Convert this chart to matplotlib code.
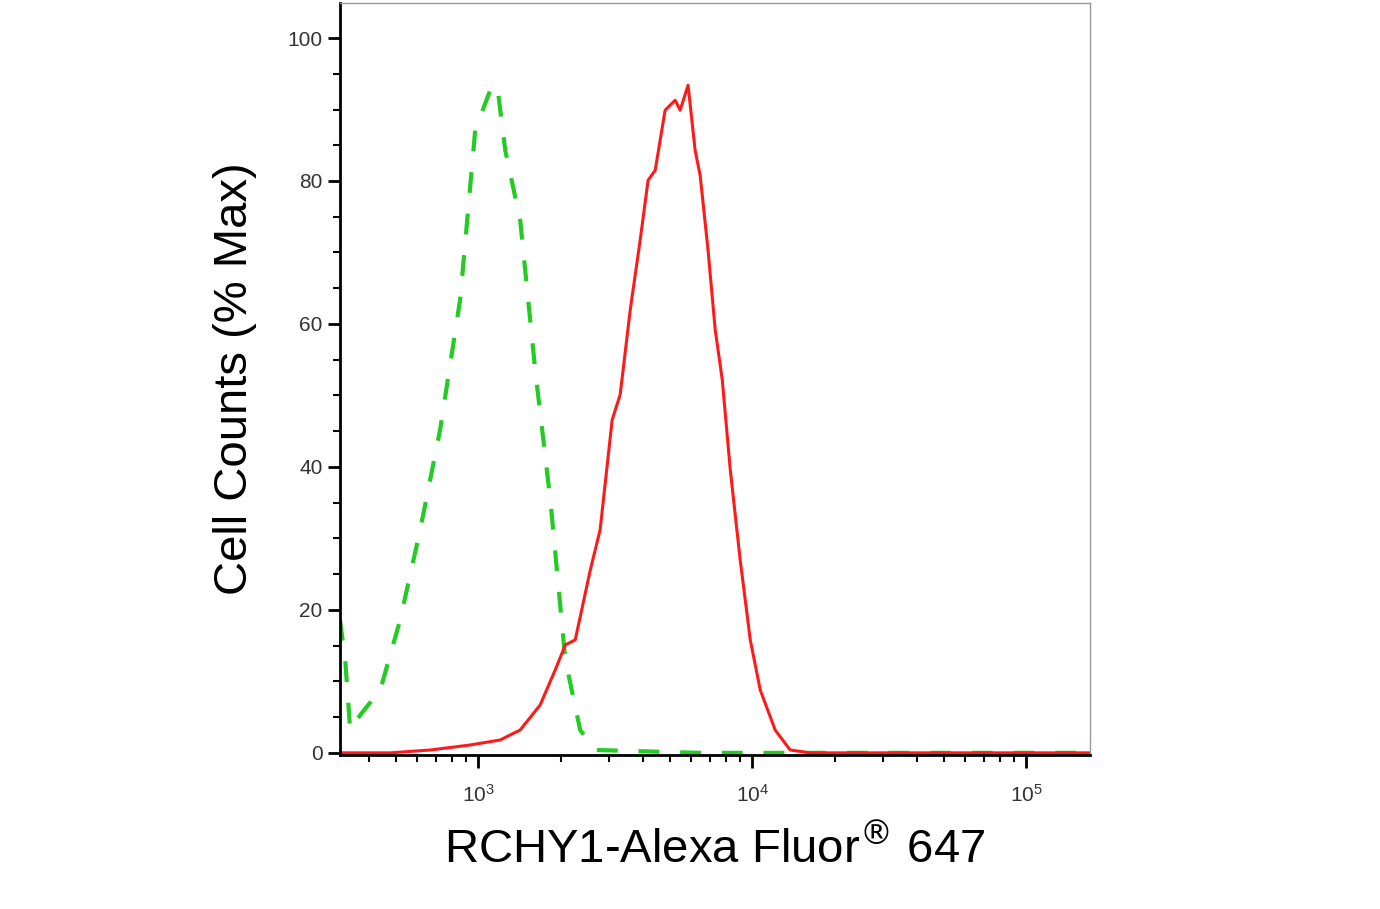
import numpy as np
import matplotlib.pyplot as plt
from matplotlib.ticker import LogLocator, NullFormatter, MultipleLocator

plt.rcParams["font.family"] = ["Liberation Sans", "DejaVu Sans"]

# isotype control (green dashed)
ctrl_x = [313, 327, 341, 371, 439, 519, 614, 726, 859, 975, 1106, 1173, 1255, 1423,
          1614, 1833, 2080, 2356, 2673, 6457, 171000]
ctrl_y = [18.6, 13.0, 3.2, 5.3, 8.8, 18.6, 31.2, 45.2, 63.4, 87.1, 92.7, 93.4, 84.3, 74.5,
          53.6, 35.4, 13.0, 3.2, 0.4, 0.0, 0.0]

# RCHY1 stained (red solid)
stain_x = [313, 477, 668, 935, 1203, 1423, 1683, 1910, 2080, 2260, 2566, 2786, 3083, 3297,
           3589, 3900, 4169, 4426, 4810, 5233, 5459, 5834, 6190, 6457, 6902, 7328, 7776,
           8318, 9040, 9840, 10700, 12130, 13760, 16290, 171000]
stain_y = [0.0, 0.0, 0.4, 1.1, 1.8, 3.2, 6.7, 11.6, 15.1, 15.8, 25.6, 31.2, 46.6, 50.1,
           62.0, 71.7, 80.1, 81.5, 89.9, 91.3, 89.9, 93.4, 84.3, 80.8, 70.3, 59.2, 52.2,
           39.6, 27.0, 15.8, 8.8, 3.2, 0.4, 0.0, 0.0]

fig = plt.figure(figsize=(13.8, 9.09), dpi=100)
ax = fig.add_axes([340 / 1380, 1 - 755 / 909, 750 / 1380, 752 / 909])

ax.plot(ctrl_x, ctrl_y, color="#22cc22", lw=3, linestyle=(0, (5, 5)))
ax.plot(stain_x, stain_y, color="#ff1a1a", lw=2.2)

ax.set_xscale("log")
ax.set_xlim(313, 171000)
ax.set_ylim(-0.3, 104.9)

ax.xaxis.set_major_locator(LogLocator(base=10, numticks=10))
ax.xaxis.set_minor_locator(LogLocator(base=10, subs=np.arange(2, 10), numticks=20))
ax.xaxis.set_minor_formatter(NullFormatter())
ax.yaxis.set_major_locator(MultipleLocator(20))
ax.yaxis.set_minor_locator(MultipleLocator(5))

ax.tick_params(axis="both", which="major", length=9, width=2, labelsize=15,
               labelcolor="#333333", direction="out")
ax.tick_params(axis="both", which="minor", length=5, width=1.5, direction="out")
ax.tick_params(axis="x", which="major", pad=12)

for s in ["left", "bottom"]:
    ax.spines[s].set_linewidth(2)
for s in ["top", "right"]:
    ax.spines[s].set_color("#999999")
    ax.spines[s].set_linewidth(1)

ax.set_ylabel("Cell Counts (% Max)", fontsize=34, labelpad=22)
ax.set_xlabel("RCHY1-Alexa Fluor$^{®}$ 647", fontsize=34, labelpad=14)

fig.savefig("out.png", dpi=100)
